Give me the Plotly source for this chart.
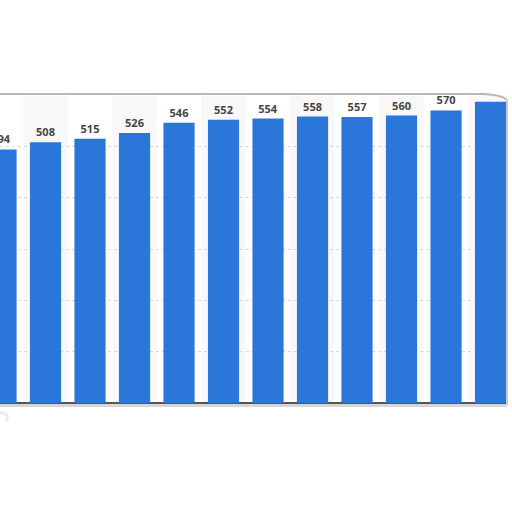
import plotly.graph_objects as go

# values, left to right (first bar is cut by the crop, last label is hidden)
values = [494, 508, 515, 526, 546, 552, 554, 558, 557, 560, 570, 587]
labels = ["494", "508", "515", "526", "546", "552", "554", "558", "557", "560", "570", ""]
positions = list(range(len(values)))
grid_ticks = [0, 100, 200, 300, 400, 500, 600]

BLUE = "#2a76d9"

fig = go.Figure()
fig.add_trace(go.Bar(
    x=positions, y=values, width=0.7,
    marker=dict(color=BLUE, line=dict(width=0)),
    text=labels, textposition="outside", cliponaxis=True,
    textfont=dict(family="Open Sans", size=11, color="#444444", weight="bold"),
    hoverinfo="skip",
))

# alternating light column bands behind every other bar
shapes = []
for i in positions:
    if i % 2 == 1:
        shapes.append(dict(type="rect", xref="x", yref="paper", x0=i - 0.5, x1=i + 0.5,
                           y0=0, y1=1, fillcolor="#f8f8f8", line=dict(width=0), layer="below"))

# page frame: top edge with curl on the right, right edge, shadow under the base
shapes += [
    dict(type="path", xref="paper", yref="paper",
         path="M 0,1.003 L 0.955,1.003 Q 0.99,1.0 0.999,0.985",
         line=dict(color="#b8b8b8", width=2)),
    dict(type="line", xref="paper", yref="paper", x0=1.0, x1=1.0, y0=0.985, y1=-0.005,
         line=dict(color="#c8c8c8", width=2)),
    dict(type="line", xref="paper", yref="paper", x0=0, x1=1.0, y0=-0.008, y1=-0.008,
         line=dict(color="#d6d6d6", width=3)),
    dict(type="path", xref="paper", yref="paper",
         path="M 0,-0.03 Q 0.02,-0.035 0.012,-0.06",
         line=dict(color="#ececec", width=3)),
]

fig.update_layout(
    width=512, height=512,
    margin=dict(l=0, r=5, t=95, b=109),
    paper_bgcolor="white", plot_bgcolor="white",
    showlegend=False, bargap=0.3,
    shapes=shapes,
    xaxis=dict(range=[-0.0225, 11.37], showticklabels=False, showgrid=False,
               zeroline=False, showline=False, ticks=""),
    yaxis=dict(range=[0, 600], tickvals=grid_ticks, showticklabels=False,
               showgrid=True, gridcolor="#d8d8d8", griddash="dot", gridwidth=1,
               zeroline=True, zerolinecolor="#555555", zerolinewidth=2, showline=False),
)

# drop the default page margin so the figure sits at the window's corner
fig.write_html("out.html", config={"displayModeBar": False},
               post_script="document.body.style.margin='0';")
